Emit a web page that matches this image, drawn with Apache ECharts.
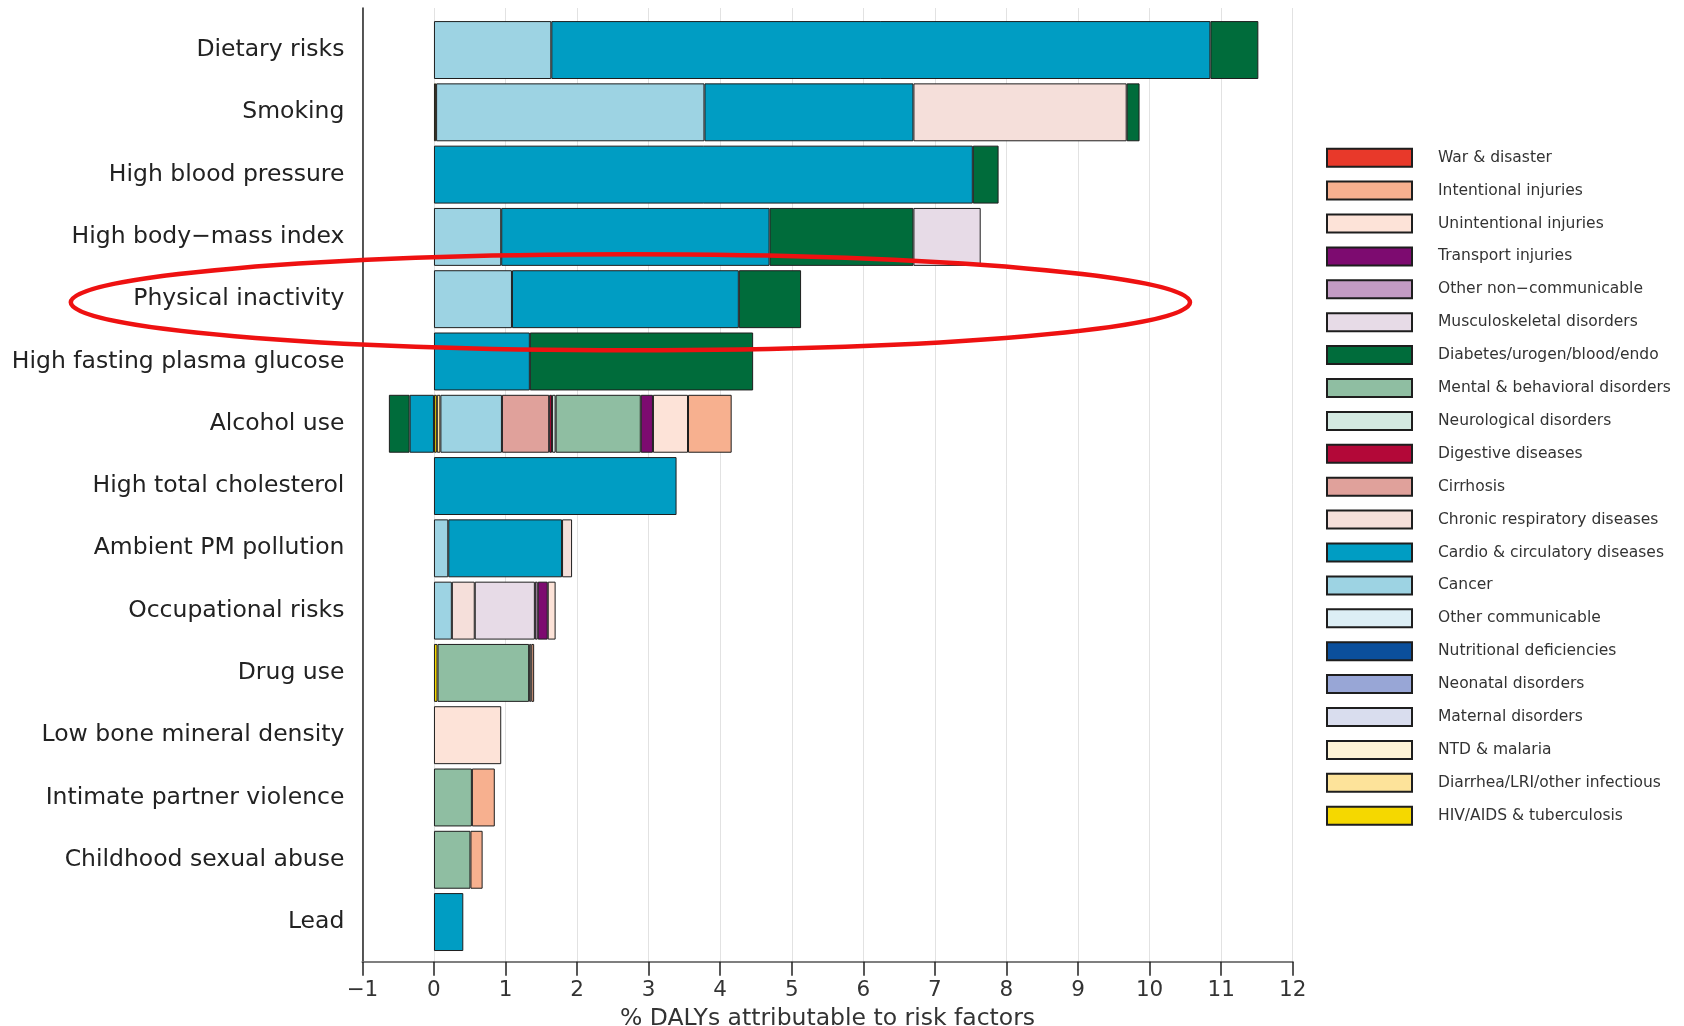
<!DOCTYPE html>
<html>
<head>
<meta charset="utf-8">
<script src="https://cdn.jsdelivr.net/npm/echarts@6/dist/echarts.min.js"></script>
<style>
html,body{margin:0;padding:0;background:#fff;}
#chart{width:1684px;height:1026px;}
</style>
</head>
<body>
<div id="chart"></div>
<script>
// ---- data ----
const categories = ['Dietary risks','Smoking','High blood pressure','High body\u2212mass index','Physical inactivity','High fasting plasma glucose','Alcohol use','High total cholesterol','Ambient PM pollution','Occupational risks','Drug use','Low bone mineral density','Intimate partner violence','Childhood sexual abuse','Lead'];
const xTicks = [-1,0,1,2,3,4,5,6,7,8,9,10,11,12];

const hivTb          = [0,0.03,0,0,0,0,0.04,0,0,0,0.05,0,0,0,0];
const diarrheaLri    = [0,0,0,0,0,0,0.05,0,0,0,0,0,0,0,0];
const ntdMalaria     = [0,0,0,0,0,0,0,0,0,0,0,0,0,0,0];
const maternal       = [0,0,0,0,0,0,0,0,0,0,0,0,0,0,0];
const neonatal       = [0,0,0,0,0,0,0,0,0,0,0,0,0,0,0];
const nutritional    = [0,0,0,0,0,0,0,0,0,0,0,0,0,0,0];
const otherComm      = [0,0,0,0,0,0,0,0,0,0,0,0,0,0,0];
const cancer         = [1.64,3.75,0,0.94,1.09,0,0.86,0,0.20,0.25,0,0,0,0,0];
const cardio         = [9.21,2.92,7.53,3.75,3.17,1.34,-0.34,3.39,1.59,0,0,0,0,0,0.41];
const chronicResp    = [0,2.98,0,0,0,0,0,0,0.14,0.32,0,0,0,0,0];
const cirrhosis      = [0,0,0,0,0,0,0.66,0,0,0,0,0,0,0,0];
const digestive      = [0,0,0,0,0,0,0.04,0,0,0,0,0,0,0,0];
const neurological   = [0,0,0,0,0,0,0.05,0,0,0,0,0,0,0,0];
const mental         = [0,0,0,0,0,0,1.19,0,0,0,1.28,0,0.53,0.51,0];
const diabetes       = [0.67,0.18,0.36,2.01,0.87,3.12,-0.29,0,0,0,0,0,0,0,0];
const musculo        = [0,0,0,0.94,0,0,0,0,0,0.84,0,0,0,0,0];
const otherNcd       = [0,0,0,0,0,0,0,0,0,0.04,0,0,0,0,0];
const transport      = [0,0,0,0,0,0,0.17,0,0,0.14,0,0,0,0,0];
const unintentional  = [0,0,0,0,0,0,0.49,0,0,0.11,0.03,0.94,0,0,0];
const intentional    = [0,0,0,0,0,0,0.61,0,0,0,0.04,0,0.32,0.17,0];
const warDisaster    = [0,0,0,0,0,0,0,0,0,0,0,0,0,0,0];

// stacking order (left to right inside each bar)
const causes = [
  ['HIV/AIDS & tuberculosis', hivTb, '#f5d800'],
  ['Diarrhea/LRI/other infectious', diarrheaLri, '#fde39a'],
  ['NTD & malaria', ntdMalaria, '#fff4d6'],
  ['Maternal disorders', maternal, '#d9ddee'],
  ['Neonatal disorders', neonatal, '#98a6d6'],
  ['Nutritional deficiencies', nutritional, '#0b4f9c'],
  ['Other communicable', otherComm, '#dceef5'],
  ['Cancer', cancer, '#9dd3e3'],
  ['Cardio & circulatory diseases', cardio, '#009dc3'],
  ['Chronic respiratory diseases', chronicResp, '#f5dfda'],
  ['Cirrhosis', cirrhosis, '#e0a19b'],
  ['Digestive diseases', digestive, '#b30838'],
  ['Neurological disorders', neurological, '#d3e9e1'],
  ['Mental & behavioral disorders', mental, '#8fbea2'],
  ['Diabetes/urogen/blood/endo', diabetes, '#006c3b'],
  ['Musculoskeletal disorders', musculo, '#e7dbe7'],
  ['Other non\u2212communicable', otherNcd, '#c39bc4'],
  ['Transport injuries', transport, '#7d0b70'],
  ['Unintentional injuries', unintentional, '#fde3d8'],
  ['Intentional injuries', intentional, '#f7b08f'],
  ['War & disaster', warDisaster, '#e8392a']
];

const FONT = 'DejaVu Sans';
const chart = echarts.init(document.getElementById('chart'), null, {renderer: 'canvas'});

const series = causes.map(([name, vals, color]) => ({
  name: name,
  type: 'bar',
  stack: 'total',
  xAxisIndex: 0,
  yAxisIndex: 0,
  barWidth: '93%',
  data: vals.map(v => v === 0 ? '-' : v),
  itemStyle: {color: color, borderColor: '#1e1e1e', borderWidth: 1},
  emphasis: {disabled: true},
  animation: false
}));

chart.setOption({
  animation: false,
  backgroundColor: '#ffffff',
  textStyle: {fontFamily: FONT},
  grid: [
    {left: 362.4, width: 930.3, top: 18.9, height: 934.3, containLabel: false, outerBoundsMode: 'none'},
    {left: 362.4, width: 930.3, top: 8, height: 953.7, containLabel: false, outerBoundsMode: 'none'}
  ],
  xAxis: [
    {gridIndex: 0, type: 'value', min: -1, max: 12, show: false},
    {
      gridIndex: 1, type: 'value', min: -1, max: 12, interval: 1,
      axisLine: {show: true, onZero: false, lineStyle: {color: '#7f7f7f', width: 2}},
      axisTick: {show: true, length: 14, lineStyle: {color: '#222', width: 1.5}},
      axisLabel: {margin: 18, fontSize: 21.5, color: '#333', fontFamily: FONT,
        formatter: v => (v < 0 ? '\u2212' + Math.abs(v) : String(v))},
      splitLine: {show: true, lineStyle: {color: '#e2e2e2', width: 1}},
      name: '% DALYs attributable to risk factors',
      nameLocation: 'middle', nameGap: 42.5,
      nameTextStyle: {fontSize: 23.5, color: '#333', fontFamily: FONT}
    }
  ],
  yAxis: [
    {
      gridIndex: 0, type: 'category', data: categories, inverse: true,
      axisLine: {show: false, onZero: false}, axisTick: {show: false},
      axisLabel: {margin: 18, fontSize: 23.5, color: '#222', fontFamily: FONT},
      splitLine: {show: false}
    },
    {
      gridIndex: 1, type: 'value', min: 0, max: 1,
      axisLine: {show: true, onZero: false, lineStyle: {color: '#222', width: 1.5}},
      axisTick: {show: false}, axisLabel: {show: false}, splitLine: {show: false}
    }
  ],
  legend: {
    orient: 'vertical', left: 1326, top: 147.7, padding: 0,
    itemWidth: 85, itemHeight: 18, itemGap: 12.9,
    icon: 'rect',
    data: causes.map(c => c[0]).slice().reverse(),
    selectedMode: false,
    textStyle: {fontSize: 15.5, lineHeight: 18, color: '#333', fontFamily: FONT, padding: [0, 0, 0, 21]}
  },
  series: series
});

// red highlight ellipse around "Physical inactivity", placed through the chart's own scales
const hlIndex = categories.indexOf('Physical inactivity');
const hlCenterX = 2.745, hlHalfWidth = 7.82, hlHalfBands = 0.77, hlShift = 0.05;
const pC = chart.convertToPixel({gridIndex: 0}, [hlCenterX, hlIndex]);
const pR = chart.convertToPixel({gridIndex: 0}, [hlCenterX + hlHalfWidth, hlIndex + 1]);
const band = pR[1] - pC[1];
chart.setOption({
  graphic: [{
    type: 'ellipse', z: 100,
    shape: {cx: pC[0], cy: pC[1] + band * hlShift, rx: pR[0] - pC[0], ry: band * hlHalfBands},
    style: {fill: 'none', stroke: '#ee1111', lineWidth: 4.5}
  }]
});
</script>
</body>
</html>
